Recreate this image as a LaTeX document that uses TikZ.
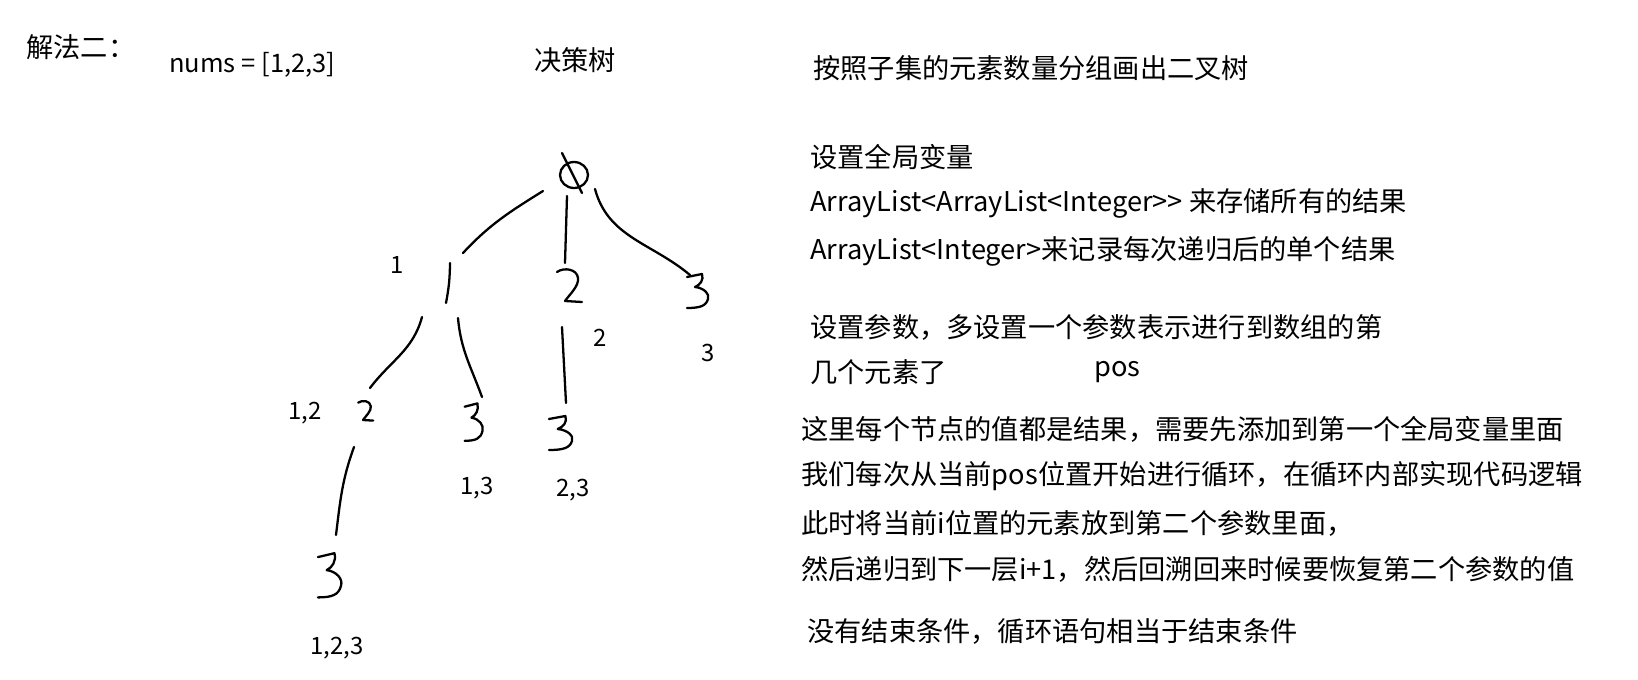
\documentclass[tikz,border=0pt]{standalone}
\usepackage{fontspec}
\usepackage{tikz}
\usetikzlibrary{positioning}
\newfontfamily\cjk{Noto Sans CJK SC}

\tikzset{
    hand/.style={line width=1.3pt, line cap=round, line join=round},
    note/.style={font=\cjk\fontsize{15.5}{18}\selectfont, anchor=west, inner sep=0pt},
    tag/.style={font=\cjk\fontsize{13.6}{16}\selectfont, inner sep=0pt},
    handtwo/.pic={
        \draw[hand] (-13,-14) .. controls (-6,-19) and (7,-17) .. (8,-8)
            .. controls (9,0) and (0,8) .. (-5,15) -- (12,16);
    },
    handthree/.pic={
        \draw[hand] (-11,-13) -- (4,-16) .. controls (6,-10) and (2,-5) .. (-3,-3)
            .. controls (6,-2) and (12,4) .. (10,9)
            .. controls (8,16) and (2,18) .. (-11,18);
    }
}

\begin{document}
\begin{tikzpicture}[x=0.02cm, y=-0.02cm]
\useasboundingbox (0,0) rectangle (1638,679);

% headings
\node[note] (method) at (26,47) {解法二：};
\node[note, font=\cjk\fontsize{14.5}{17}\selectfont] (nums) at (169,65) {nums = [1,2,3]};
\node[note, anchor=center] (title) at (575,60) {决策树};

% tree positions
\coordinate (root) at (574,175);
\coordinate (n1) at (448,283);
\coordinate (n2) at (570,286);
\coordinate (n3) at (698,290);
\coordinate (n12) at (366,411);
\coordinate (n13) at (474,421);
\coordinate (n23) at (561,432);
\coordinate (n123) at (330,574);

% empty set
\draw[hand] (root) ellipse [x radius=0.28cm, y radius=0.26cm];
\draw[hand] ([shift={(-12,-22)}]root) -- ([shift={(8,18)}]root);

% handwritten values
\draw[hand] ([shift={(2,-20)}]n1) to[bend left=5] ([shift={(-2,20)}]n1);
\pic at (n2) {handtwo};
\pic at (n3) {handthree};
\pic[scale=0.6] at (n12) {handtwo};
\pic[xscale=0.85, yscale=1.1] at (n13) {handthree};
\pic[xscale=1.1] at (n23) {handthree};
\pic[xscale=1.1, yscale=1.3] at (n123) {handthree};

% branches
\draw[hand] ([shift={(-31,16)}]root) to[out=212, in=47] ([shift={(15,-30)}]n1);
\draw[hand] ([shift={(-7,21)}]root) -- ([shift={(-5,-23)}]n2);
\draw[hand] ([shift={(21,14)}]root) to[out=-75, in=140] ([shift={(-8,-15)}]n3);
\draw[hand] ([shift={(-26,34)}]n1) to[out=-105, in=53] ([shift={(4,-23)}]n12);
\draw[hand] ([shift={(10,35)}]n1) to[out=-85, in=110] ([shift={(8,-24)}]n13);
\draw[hand] ([shift={(-8,41)}]n2) -- ([shift={(5,-29)}]n23);
\draw[hand] ([shift={(-12,36)}]n12) to[out=250, in=83] ([shift={(6,-39)}]n123);

% subset labels
\node[tag] (l1) at (397,265) {1};
\node[tag] (l2) at (600,338) {2};
\node[tag] (l3) at (708,353) {3};
\node[tag] (l12) at (305,413) {1,2};
\node[tag] (l13) at (477,488) {1,3};
\node[tag] (l23) at (573,490) {2,3};
\node[tag] (l123) at (337,648) {1,2,3};

% notes
\node[note] (t1) at (813,68) {按照子集的元素数量分组画出二叉树};
\node[note] (t2) at (810,157) {设置全局变量};
\node[note] (t3) at (810,203) {ArrayList<ArrayList<Integer>{}> 来存储所有的结果};
\node[note] (t4) at (810,251) {ArrayList<Integer>来记录每次递归后的单个结果};
\node[note] (t5) at (810,327) {设置参数，多设置一个参数表示进行到数组的第};
\node[note] (t6) at (810,372) {几个元素了};
\node[note] (pos) at (1094,372) {pos};
\node[note] (t7) at (801,429) {这里每个节点的值都是结果，需要先添加到第一个全局变量里面};
\node[note] (t8) at (801,476) {我们每次从当前pos位置开始进行循环，在循环内部实现代码逻辑};
\node[note] (t9) at (801,523) {此时将当前i位置的元素放到第二个参数里面，};
\node[note] (t10) at (801,569) {然后递归到下一层i+1，然后回溯回来时候要恢复第二个参数的值};
\node[note] (t11) at (807,631) {没有结束条件，循环语句相当于结束条件};
\end{tikzpicture}
\end{document}
